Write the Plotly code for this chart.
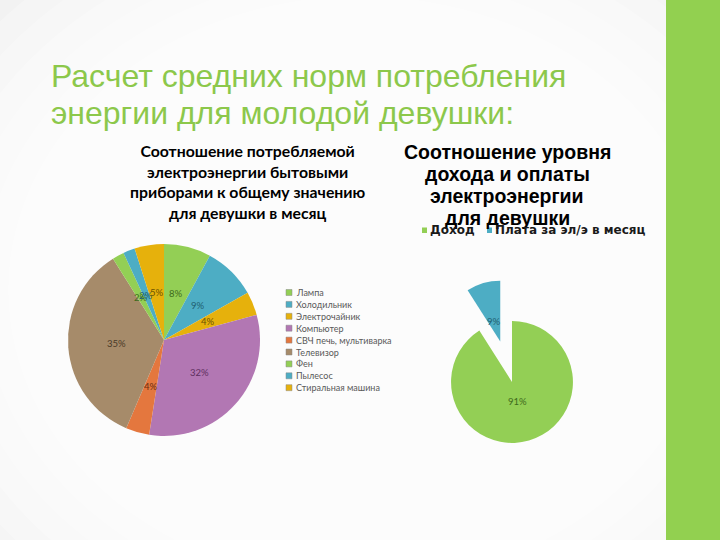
import math
import plotly.graph_objects as go

W, H = 720, 540

# ---------------- data ----------------
slide_title_lines = ["Расчет средних норм потребления", "энергии для молодой девушки:"]

chart1_title = ("<b>Соотношение потребляемой<br>электроэнергии бытовыми<br>"
                "приборами к общему значению<br>для девушки в месяц</b>")
appliances = ["Лампа", "Холодильник", "Электрочайник", "Компьютер",
              "СВЧ печь, мультиварка", "Телевизор", "Фен", "Пылесос",
              "Стиральная машина"]
appliance_share = [8, 9, 4, 32, 4, 35, 2, 2, 5]
appliance_colors = ["#93CF55", "#4DADC4", "#E6B10C", "#B277B3", "#E4773E",
                    "#A68B6A", "#93CF55", "#4DADC4", "#E6B10C"]
appliance_text_colors = ["#3E6A1C", "#1F5F70", "#6B5200", "#5E2F60", "#6A2E10",
                         "#4A3A28", "#3E6A1C", "#1F5F70", "#6B5200"]

chart2_title_lines = ["Соотношение уровня", "дохода и оплаты", "электроэнергии", "для девушки"]
budget_items = ["Доход", "Плата за эл/э в месяц"]
budget_share = [91, 9]
budget_colors = ["#93CF55", "#4DADC4"]
budget_text_colors = ["#3E6A1C", "#1F5F70"]
budget_pull = [0, 0.69]


def fx(x):
    return x / W


def fy(y):
    return 1 - y / H


# pie geometry (pixels)
P1_CX, P1_CY, P1_HALF = 164, 340, 96
P2_CX, P2_CY, P2_HALF = 512, 382, 103

fig = go.Figure()

fig.add_trace(go.Pie(
    labels=appliances, values=appliance_share, sort=False,
    direction="clockwise", rotation=0,
    marker=dict(colors=appliance_colors, line=dict(width=0)),
    textinfo="none",
    domain=dict(x=[fx(P1_CX - P1_HALF), fx(P1_CX + P1_HALF)],
                y=[fy(P1_CY + P1_HALF), fy(P1_CY - P1_HALF)]),
    showlegend=False, hoverinfo="label+percent",
))

fig.add_trace(go.Pie(
    labels=budget_items, values=budget_share, sort=False,
    direction="clockwise", rotation=0, pull=budget_pull,
    marker=dict(colors=budget_colors, line=dict(width=0)),
    textinfo="none",
    domain=dict(x=[fx(P2_CX - P2_HALF), fx(P2_CX + P2_HALF)],
                y=[fy(P2_CY + P2_HALF), fy(P2_CY - P2_HALF)]),
    showlegend=False, hoverinfo="label+percent",
))

shapes = []
annotations = []

# background vignette: grey paper lightened towards the centre
for i in range(12):
    rx = 560 - i * 26
    ry = 470 - i * 22
    cx, cy = 360, 290
    shapes.append(dict(type="circle", xref="paper", yref="paper", layer="below",
                       x0=fx(cx - rx), x1=fx(cx + rx), y0=fy(cy + ry), y1=fy(cy - ry),
                       fillcolor="rgba(255,255,255,0.24)", line=dict(width=0)))
shapes.append(dict(type="rect", xref="paper", yref="paper", layer="below",
                   x0=fx(666), x1=1, y0=0, y1=1,
                   fillcolor="#92D050", line=dict(width=0)))


def pie_labels(values, tcolors, cx, cy, r, frac, pulls=None):
    total = sum(values)
    cum = 0.0
    for i, v in enumerate(values):
        mid = (cum + v / 2) / total * 2 * math.pi
        cum += v
        p = pulls[i] if pulls else 0
        d = frac * r + p * r
        x = cx + math.sin(mid) * d
        y = cy - math.cos(mid) * d
        annotations.append(dict(text=f"{round(v / total * 100)}%", x=fx(x), y=fy(y),
                                xref="paper", yref="paper", xanchor="center",
                                yanchor="middle", showarrow=False,
                                font=dict(family="Lato", size=9.5, color=tcolors[i])))


pie_labels(appliance_share, appliance_text_colors, P1_CX, P1_CY, P1_HALF, 0.5)
r2 = P2_HALF / (1 + max(budget_pull))
pie_labels(budget_share, budget_text_colors, P2_CX, P2_CY, r2, 0.34, budget_pull)

# slide title
for i, line in enumerate(slide_title_lines):
    annotations.append(dict(text=line, x=fx(49), y=fy(76 + i * 37), xref="paper", yref="paper",
                            xanchor="left", yanchor="middle", align="left", showarrow=False,
                            font=dict(family="Liberation Sans", size=32, color="#8CC84B")))

annotations.append(dict(text=chart1_title, x=fx(248), y=fy(181), xref="paper", yref="paper",
                        xanchor="center", yanchor="middle", align="center", showarrow=False,
                        font=dict(family="Lato", size=15.8, color="#000000")))
for i, line in enumerate(chart2_title_lines):
    annotations.append(dict(text="<b>" + line + "</b>", x=fx(507), y=fy(152 + i * 22),
                            xref="paper", yref="paper", xanchor="center", yanchor="middle",
                            showarrow=False,
                            font=dict(family="Liberation Sans", size=19.5, color="#000000")))

# legend 1 (vertical, small)
for i, (lab, col) in enumerate(zip(appliances, appliance_colors)):
    yc = 292.5 + i * 11.9
    shapes.append(dict(type="rect", xref="paper", yref="paper",
                       x0=fx(286), x1=fx(292), y0=fy(yc + 3), y1=fy(yc - 3),
                       fillcolor=col, line=dict(width=0.5, color="#8A8A8A")))
    annotations.append(dict(text=lab, x=fx(294), y=fy(yc), xref="paper", yref="paper",
                            xanchor="left", yanchor="middle", showarrow=False,
                            font=dict(family="Lato", size=9, color="#595959")))

# legend 2 (horizontal)
legend2_x = [422, 487]
for lab, col, x0 in zip(budget_items, budget_colors, legend2_x):
    yc = 230
    shapes.append(dict(type="rect", xref="paper", yref="paper",
                       x0=fx(x0), x1=fx(x0 + 5), y0=fy(yc + 3), y1=fy(yc - 2.5),
                       fillcolor=col, line=dict(width=0)))
    annotations.append(dict(text="<b>" + lab + "</b>", x=fx(x0 + 5.5), y=fy(yc), xref="paper",
                            yref="paper", xanchor="left", yanchor="middle", showarrow=False,
                            font=dict(family="DejaVu Sans", size=12, color="#1A1A1A")))

fig.update_layout(
    width=W, height=H, margin=dict(l=0, r=0, t=0, b=0),
    paper_bgcolor="#E3E3E3", plot_bgcolor="rgba(0,0,0,0)",
    shapes=shapes, annotations=annotations,
)

fig.write_html("out.html")
